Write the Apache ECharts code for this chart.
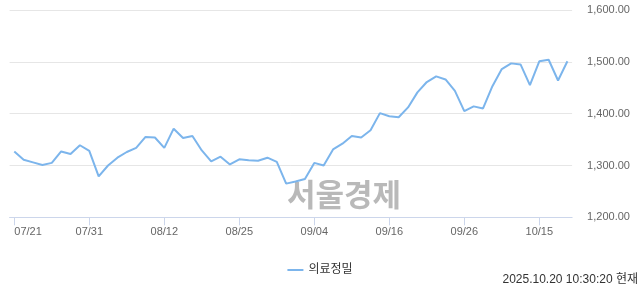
<!DOCTYPE html>
<html>
<head>
<meta charset="utf-8">
<style>
html,body{margin:0;padding:0;background:#fff;}
#chart{width:640px;height:294px;}
</style>
<script src="https://cdn.jsdelivr.net/npm/echarts@6/dist/echarts.min.js"></script>
</head>
<body>
<div id="chart"></div>
<script>
const categories = [
  '07/21','07/22','07/23','07/24','07/25','07/28','07/29','07/30','07/31',
  '08/01','08/04','08/05','08/06','08/07','08/08','08/11','08/12',
  '08/13','08/14','08/18','08/19','08/20','08/21','08/22','08/25',
  '08/26','08/27','08/28','08/29','09/01','09/02','09/03','09/04',
  '09/05','09/08','09/09','09/10','09/11','09/12','09/15','09/16',
  '09/17','09/18','09/19','09/22','09/23','09/24','09/25','09/26',
  '09/29','09/30','10/01','10/02','10/10','10/13','10/14','10/15',
  '10/16','10/17','10/20'
];
const seriesName = '의료정밀';
const values = [
  1327,1311,1306,1301,1305,1327,1322,1339,1328,
  1279,1300,1315,1326,1334,1355,1354,1334,
  1371,1353,1357,1329,1308,1317,1302,1312,
  1310,1309,1315,1307,1265,1269,1274,1305,
  1300,1331,1342,1357,1354,1368,1401,1395,
  1393,1412,1441,1461,1472,1466,1444,1405,
  1414,1410,1453,1486,1497,1495,1455,1501,
  1504,1464,1501
];
const yTicks = [1200, 1300, 1400, 1500, 1600];
const watermark = '서울경제';
const timestamp = '2025.10.20 10:30:20 현재';

const FONT = '"Liberation Sans", "Noto Sans CJK KR", sans-serif';
const chart = echarts.init(document.getElementById('chart'), null, {renderer: 'canvas'});
chart.setOption({
  animation: false,
  backgroundColor: '#ffffff',
  textStyle: {fontFamily: FONT},
  grid: {left: 9.6, right: 67.9, top: 10, bottom: 76.7, containLabel: false},
  legend: {
    data: [seriesName],
    left: 'center',
    top: 259,
    icon: 'rect',
    itemWidth: 16,
    itemHeight: 2,
    itemGap: 10,
    textStyle: {fontSize: 12, color: '#333333', fontFamily: FONT}
  },
  xAxis: {
    type: 'category',
    data: categories,
    boundaryGap: true,
    axisLine: {lineStyle: {color: '#ccd6eb', width: 1}},
    axisTick: {show: true, interval: 7, alignWithLabel: true, length: 8, lineStyle: {color: '#ccd6eb'}},
    axisLabel: {interval: 7, margin: 9, fontSize: 11, color: '#666666', fontFamily: FONT, alignMinLabel: 'left'},
    splitLine: {show: false}
  },
  yAxis: {
    type: 'value',
    position: 'right',
    min: yTicks[0],
    max: yTicks[yTicks.length - 1],
    interval: 100,
    axisLine: {show: false},
    axisTick: {show: false},
    axisLabel: {
      margin: 15,
      fontSize: 11,
      color: '#666666',
      fontFamily: FONT,
      formatter: function (v) {
        return v.toLocaleString('en-US', {minimumFractionDigits: 2, maximumFractionDigits: 2});
      }
    },
    splitLine: {lineStyle: {color: '#e6e6e6', width: 1}}
  },
  graphic: [
    {
      type: 'text',
      left: 287,
      top: 179,
      z: -1,
      silent: true,
      style: {
        text: watermark,
        fontSize: 31,
        fontWeight: 'bold',
        fontFamily: '"Noto Sans CJK KR", sans-serif',
        fill: '#b9b9b9'
      }
    },
    {
      type: 'text',
      right: 2,
      top: 274,
      style: {
        text: timestamp,
        fontSize: 12,
        fontFamily: FONT,
        fill: '#333333'
      }
    }
  ],
  series: [{
    name: seriesName,
    type: 'line',
    data: values,
    showSymbol: false,
    symbol: 'none',
    z: 5,
    lineStyle: {color: '#7cb5ec', width: 2},
    itemStyle: {color: '#7cb5ec'}
  }]
});
</script>
</body>
</html>
